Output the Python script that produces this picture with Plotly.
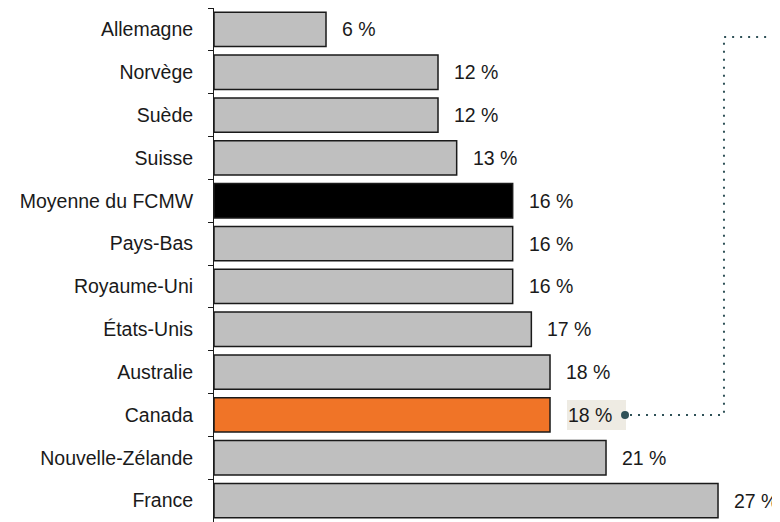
import plotly.graph_objects as go

# valeurs (du haut vers le bas)
PAYS = [
    "Allemagne", "Norvège", "Suède", "Suisse", "Moyenne du FCMW", "Pays-Bas",
    "Royaume-Uni", "États-Unis", "Australie", "Canada", "Nouvelle-Zélande", "France",
]
VALEURS = [6, 12, 12, 13, 16, 16, 16, 17, 18, 18, 21, 27]
ETIQUETTES = [f"{v} %" for v in VALEURS]

GRIS = "#BFBFBF"
NOIR = "#000000"
ORANGE = "#F07427"
FOND_CANADA = "#EEEBE3"
ARDOISE = "#2F5157"
FONT = "Liberation Sans, Arial, sans-serif"
TAILLE = 19.5

couleurs = [NOIR if p == "Moyenne du FCMW" else ORANGE if p == "Canada" else GRIS for p in PAYS]

fig = go.Figure(
    go.Bar(
        x=VALEURS,
        y=PAYS,
        orientation="h",
        marker=dict(color=couleurs, line=dict(color="#1A1A1A", width=1.5)),
        hoverinfo="skip",
    )
)

for p, v, lab in zip(PAYS, VALEURS, ETIQUETTES):
    if p == "Canada":
        # fond beige sous l'étiquette, puis point d'ancrage du connecteur
        fig.add_shape(
            type="rect", xref="x", yref="y", xsizemode="pixel", ysizemode="pixel",
            xanchor=v, yanchor=p, x0=17, x1=76, y0=-15, y1=15,
            fillcolor=FOND_CANADA, line=dict(width=0), layer="above",
        )
        fig.add_shape(
            type="circle", xref="x", yref="y", xsizemode="pixel", ysizemode="pixel",
            xanchor=v, yanchor=p, x0=71, x1=79, y0=-4, y1=4,
            fillcolor=ARDOISE, line=dict(width=0), layer="above",
        )
        fig.add_annotation(
            x=v, y=p, text=lab, showarrow=False, xanchor="left", xshift=16,
            font=dict(family=FONT, size=TAILLE, color="#1A1A1A"),
        )
    else:
        fig.add_annotation(
            x=v, y=p, text=lab, showarrow=False, xanchor="left", xshift=14,
            font=dict(family=FONT, size=TAILLE, color="#1A1A1A"),
        )

# connecteur pointillé depuis l'étiquette du Canada
fig.add_shape(
    type="path", xref="paper", yref="paper",
    path="M 0.735 0.2084 L 0.901 0.2084 L 0.901 0.9436 L 1.0 0.9436",
    line=dict(color=ARDOISE, width=2, dash="2px,6px"),
)

fig.update_layout(
    width=772, height=514,
    margin=dict(l=206, r=0, t=0, b=0),
    plot_bgcolor="white", paper_bgcolor="white",
    bargap=0.2, showlegend=False,
    font=dict(family=FONT, size=TAILLE, color="#1A1A1A"),
    xaxis=dict(range=[0, 30.32], visible=False, fixedrange=True),
    yaxis=dict(
        autorange="reversed", showline=True, linecolor="#1A1A1A", linewidth=1,
        ticks="outside", tickson="boundaries", ticklen=5, tickcolor="#1A1A1A",
        ticklabelstandoff=16, showgrid=False, fixedrange=True,
        tickfont=dict(family=FONT, size=TAILLE, color="#1A1A1A"),
    ),
)

fig.write_html("out.html")
